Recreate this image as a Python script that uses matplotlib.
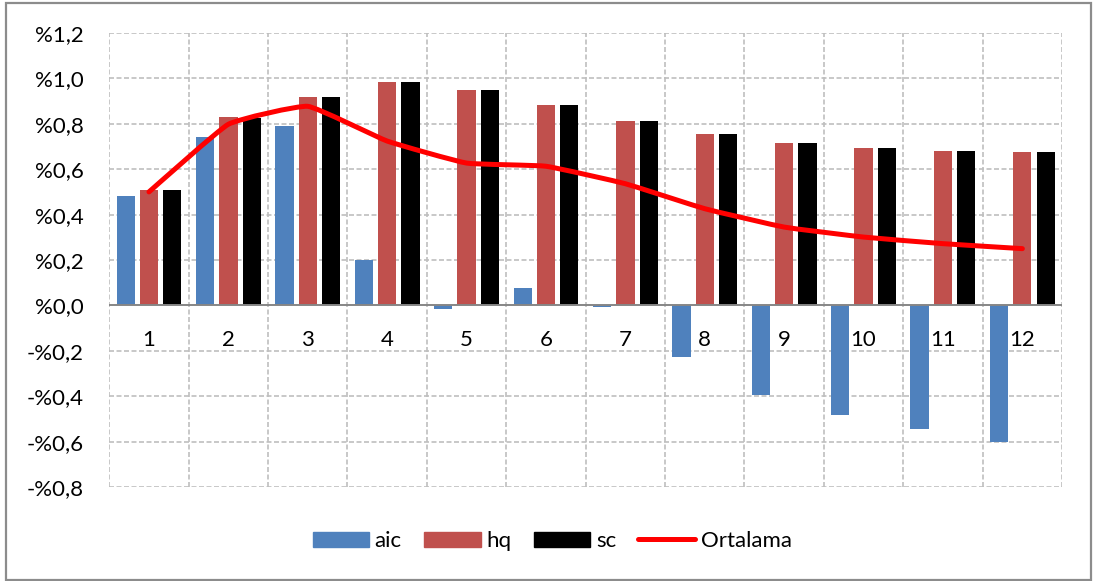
import matplotlib
matplotlib.use("Agg")
import matplotlib.pyplot as plt
import numpy as np
from matplotlib.path import Path
from matplotlib.patches import PathPatch, Rectangle
from matplotlib.lines import Line2D
from matplotlib.transforms import ScaledTranslation

plt.rcParams['font.family'] = ['Lato', 'DejaVu Sans']

# Data (%)
categories = ["1", "2", "3", "4", "5", "6", "7", "8", "9", "10", "11", "12"]
aic = [0.48, 0.74, 0.79, 0.20, -0.016, 0.075, -0.007, -0.226, -0.394, -0.482, -0.546, -0.602]
hq = [0.51, 0.83, 0.92, 0.983, 0.951, 0.884, 0.811, 0.757, 0.717, 0.694, 0.680, 0.675]
sc = [0.51, 0.826, 0.92, 0.983, 0.951, 0.884, 0.811, 0.757, 0.717, 0.694, 0.680, 0.675]
ortalama = [0.50, 0.798, 0.877, 0.724, 0.627, 0.613, 0.536, 0.426, 0.345, 0.301, 0.272, 0.25]
y_ticks = [-0.8, -0.6, -0.4, -0.2, 0.0, 0.2, 0.4, 0.6, 0.8, 1.0, 1.2]

C_AIC = "#4F81BD"
C_HQ = "#C0504D"
C_SC = "#000000"
C_AVG = "#FF0000"
GRID = "#BFBFBF"
FS = 16

fig = plt.figure(figsize=(10.94, 5.81), dpi=100)
ax = fig.add_axes([0.0999, 0.1618, 0.8709, 0.7814])

x = np.arange(1, len(categories) + 1)
pitch = 0.294
width = 0.23
ax.bar(x - pitch, aic, width, color=C_AIC, zorder=3)
ax.bar(x, hq, width, color=C_HQ, zorder=3)
ax.bar(x + pitch, sc, width, color=C_SC, zorder=3)

# Smoothed average line: cubic Bezier segments with gentle tangents
tension = 0.06
pts = np.column_stack([x, ortalama]).astype(float)
verts = [tuple(pts[0])]
codes = [Path.MOVETO]
n = len(pts)
for i in range(n - 1):
    p0 = pts[i - 1] if i > 0 else pts[i]
    p1 = pts[i]
    p2 = pts[i + 1]
    p3 = pts[i + 2] if i + 2 < n else pts[i + 1]
    c1 = p1 + (p2 - p0) * tension
    c2 = p2 - (p3 - p1) * tension
    verts += [tuple(c1), tuple(c2), tuple(p2)]
    codes += [Path.CURVE4, Path.CURVE4, Path.CURVE4]
ax.add_patch(PathPatch(Path(verts, codes), facecolor="none", edgecolor=C_AVG,
                       lw=3.6, capstyle="round", joinstyle="round", zorder=4))

ax.set_xlim(0.5, len(categories) + 0.5)
ax.set_ylim(-0.8, 1.2)

# Dashed grid
for yv in y_ticks:
    if yv != 0.0:
        ax.axhline(yv, color=GRID, lw=1.2, dashes=(3, 1.5), zorder=1)
for xv in np.arange(0.5, len(categories) + 1, 1.0):
    ax.axvline(xv, color=GRID, lw=1.2, dashes=(3, 1.5), zorder=1)
ax.axhline(0.0, color="#868686", lw=1.4, zorder=5)

for s in ax.spines.values():
    s.set_visible(False)
ax.set_xticks([])
ax.set_yticks(y_ticks)


def pct(v):
    s = f"{abs(v):.1f}".replace(".", ",")
    return ("-%" if v < -1e-9 else "%") + s


ax.set_yticklabels([pct(v) for v in y_ticks], fontsize=FS, color="black")
ax.tick_params(axis="y", length=0, pad=18.5)

# Category labels just below the zero line
trans = ax.transData + ScaledTranslation(0, -35 / 100, fig.dpi_scale_trans)
for xi, lab in zip(x, categories):
    ax.text(xi, 0.0, lab, transform=trans, ha="center", va="center",
            fontsize=FS, color="black", zorder=6)

handles = [
    Rectangle((0, 0), 1, 1, color=C_AIC),
    Rectangle((0, 0), 1, 1, color=C_HQ),
    Rectangle((0, 0), 1, 1, color=C_SC),
    Line2D([0], [0], color=C_AVG, lw=3.6, solid_capstyle="round"),
]
fig.legend(handles, ["aic", "hq", "sc", "Ortalama"], loc="center",
           bbox_to_anchor=(0.5046, 0.0688), ncol=4, frameon=False,
           fontsize=FS, handlelength=2.55, handleheight=0.68,
           handletextpad=0.25, columnspacing=1.0)

# Chart area border
fig.patches.append(Rectangle((6 / 1094, 1 / 581), 1085 / 1094, 577 / 581,
                             transform=fig.transFigure, fill=False,
                             edgecolor="#8C8C8C", lw=1.6))

fig.savefig("out.png", dpi=100)
